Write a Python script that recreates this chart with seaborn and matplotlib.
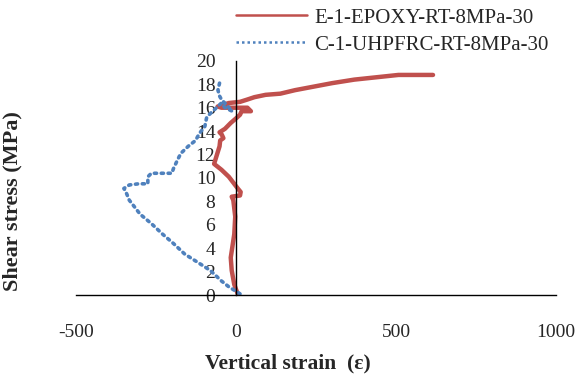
import seaborn as sns
import matplotlib.pyplot as plt
from matplotlib.lines import Line2D
import pandas as pd

# E-1-EPOXY-RT-8MPa-30 (red)
epoxy_strain = [6, -6, -14, -17, -12, -6, -3, -9, -14, 12, 14, 5, -23, -46, -69, -60, -52, -50, -40, -45,
                -52, -35, -17, 0, 12, 17, 46, 35, 0, -46, -58, -23, 12, 35, 57, 92, 138, 184, 242, 300,
                369, 438, 507, 560, 615]
epoxy_stress = [0.0, 0.9, 2.1, 3.2, 4.1, 5.2, 6.7, 8.1, 8.4, 8.5, 8.8, 9.1, 10.1, 10.7, 11.2, 12.0, 12.7, 13.2, 13.4, 13.7,
                13.9, 14.2, 14.7, 15.1, 15.4, 15.7, 15.7, 16.0, 16.0, 16.0, 16.1, 16.4, 16.5, 16.7, 16.9, 17.1, 17.2, 17.5, 17.8, 18.1,
                18.4, 18.6, 18.8, 18.8, 18.8]

# C-1-UHPFRC-RT-8MPa-30 (blue)
uhpfrc_strain = [12, -23, -46, -81, -115, -161, -196, -230, -265, -300, -334, -346, -351, -334, -305, -276, -276, -265,
                 -230, -201, -196, -184, -173, -150, -127, -115, -98, -92, -81, -46, -35, -12, -46, -52, -57, -52]
uhpfrc_stress = [0.1, 0.7, 1.2, 2.1, 2.7, 3.5, 4.4, 5.2, 6.1, 6.9, 8.1, 8.9, 9.1, 9.4, 9.5, 9.5, 10.1, 10.4,
                 10.4, 10.4, 10.8, 11.5, 12.1, 12.7, 13.2, 13.8, 14.4, 15.2, 15.5, 16.4, 16.0, 15.7, 16.7, 17.0, 17.5, 18.1]

red = '#C0504D'
blue = '#4F81BD'

sns.set_style('white')
plt.rcParams['font.family'] = ['Liberation Serif', 'DejaVu Serif']
plt.rcParams['axes.unicode_minus'] = False

fig = plt.figure(figsize=(5.77, 3.77), dpi=100)
ax = fig.add_axes([0.132, 0.2175, 0.832, 0.621])

df_e = pd.DataFrame({'strain': epoxy_strain, 'stress': epoxy_stress})
df_c = pd.DataFrame({'strain': uhpfrc_strain, 'stress': uhpfrc_stress})
sns.lineplot(data=df_e, x='strain', y='stress', sort=False, estimator=None, color=red,
             linewidth=3.2, ax=ax, legend=False)
sns.lineplot(data=df_c, x='strain', y='stress', sort=False, estimator=None, color=blue,
             linewidth=2.6, linestyle=(0, (0.6, 1.3)), dash_capstyle='round', ax=ax, legend=False)

ax.set_xlim(-500, 1000)
ax.set_ylim(0, 20)
ax.set_xticks([-500, 0, 500, 1000])
ax.set_yticks(range(0, 21, 2))
ax.spines['left'].set_position(('data', 0))
ax.spines['right'].set_visible(False)
ax.spines['top'].set_visible(False)
for s in ['left', 'bottom']:
    ax.spines[s].set_color('black')
    ax.spines[s].set_linewidth(1)
ax.tick_params(axis='x', direction='out', length=5, width=1, pad=16, labelsize=14)
ax.tick_params(axis='y', direction='out', length=5, width=1, pad=10, labelsize=14)

ax.set_xlabel('Vertical strain  (ε)', fontsize=15.5, fontweight='bold')
ax.set_ylabel('Shear stress (MPa)', fontsize=16, fontweight='bold')
ax.xaxis.set_label_coords(0.44, -0.248)
ax.yaxis.set_label_coords(-0.1125, 0.40)

handles = [Line2D([], [], color=red, linewidth=1.8),
           Line2D([], [], color=blue, linewidth=1.8, linestyle=(0, (1, 1.2)))]
fig.legend(handles, ['E-1-EPOXY-RT-8MPa-30', 'C-1-UHPFRC-RT-8MPa-30'], loc='upper left',
           bbox_to_anchor=(0.377, 1.028), frameon=False, fontsize=15, handlelength=3.4,
           handletextpad=0.35, labelspacing=0.35)

fig.savefig('out.png', dpi=100)
